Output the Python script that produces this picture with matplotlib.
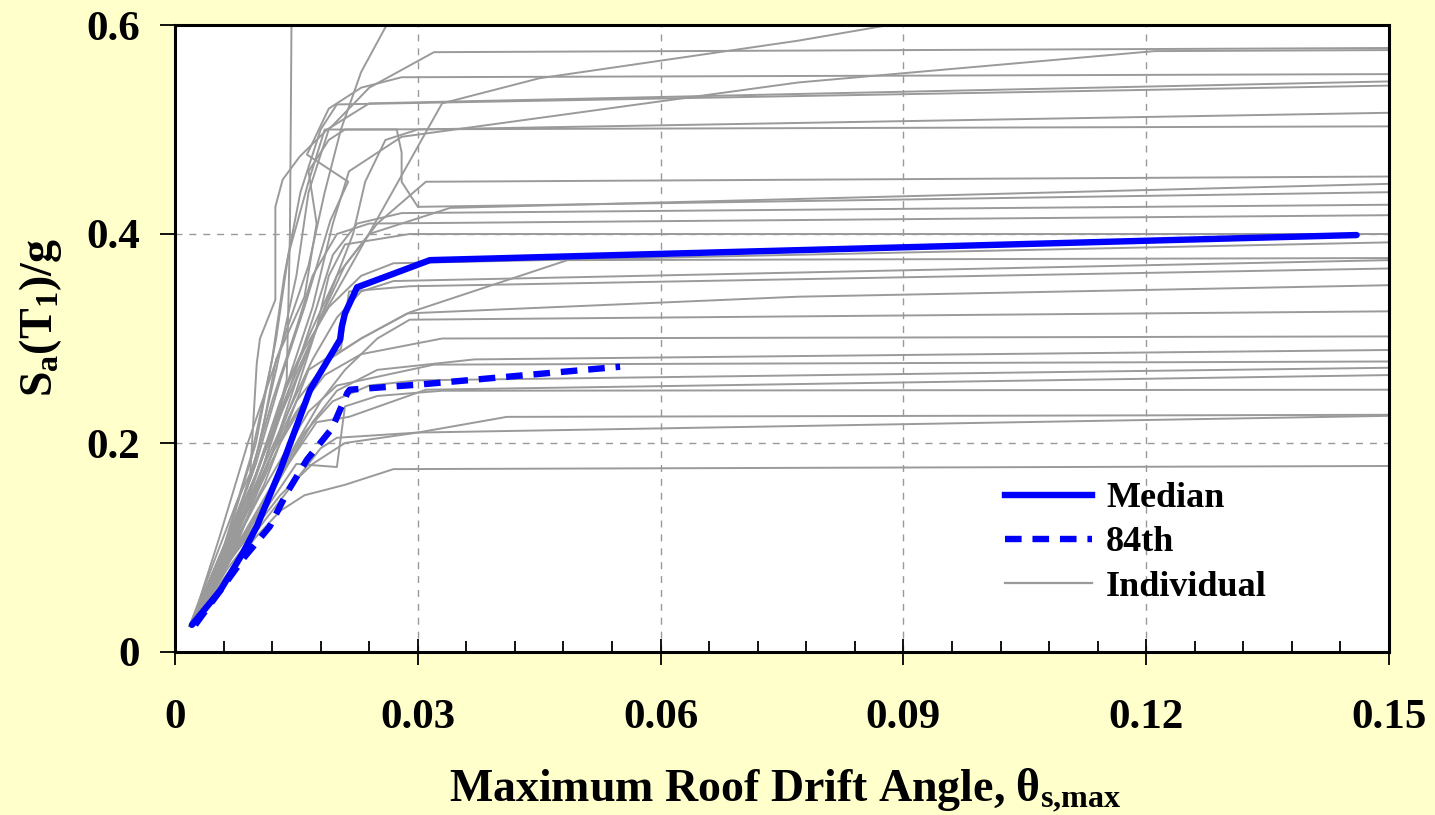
import numpy as np
import matplotlib
matplotlib.use("Agg")
import matplotlib.pyplot as plt
from matplotlib.lines import Line2D

plt.rcParams["font.family"] = ["Liberation Serif", "DejaVu Serif"]
plt.rcParams["font.weight"] = "bold"
plt.rcParams["mathtext.fontset"] = "custom"
plt.rcParams["mathtext.rm"] = "Liberation Serif:bold"
plt.rcParams["mathtext.bf"] = "Liberation Serif:bold"
plt.rcParams["mathtext.it"] = "Liberation Serif:bold"

# individual record curves: (drift angle, Sa/g) pairs
individual = [
    [(0.0018, 0.025), (0.0055, 0.085), (0.0095, 0.17), (0.0125, 0.27), (0.015, 0.36), (0.0165, 0.44), (0.019, 0.50), (0.024, 0.54), (0.032, 0.574), (0.15, 0.578)],
    [(0.0020, 0.025), (0.0065, 0.09), (0.011, 0.18), (0.014, 0.26), (0.017, 0.33), (0.0195, 0.41), (0.0215, 0.46), (0.028, 0.493), (0.077, 0.545), (0.121, 0.575), (0.15, 0.576)],
    [(0.0018, 0.025), (0.006, 0.09), (0.010, 0.17), (0.014, 0.25), (0.018, 0.318), (0.033, 0.525), (0.045, 0.549), (0.077, 0.585), (0.092, 0.605)],
    [(0.0018, 0.025), (0.005, 0.08), (0.009, 0.15), (0.012, 0.21), (0.0138, 0.26), (0.0142, 0.40), (0.0143, 0.50), (0.0144, 0.61)],
    [(0.0020, 0.025), (0.0055, 0.11), (0.009, 0.20), (0.013, 0.29), (0.0165, 0.37), (0.0185, 0.44), (0.0205, 0.50), (0.023, 0.555), (0.0265, 0.605)],
    [(0.0019, 0.025), (0.006, 0.095), (0.010, 0.18), (0.013, 0.26), (0.016, 0.33), (0.0192, 0.413), (0.0214, 0.45), (0.0163, 0.476), (0.019, 0.52), (0.023, 0.54), (0.028, 0.55), (0.15, 0.553)],
    [(0.0018, 0.025), (0.0045, 0.08), (0.0077, 0.145), (0.0093, 0.171), (0.0101, 0.276), (0.0105, 0.30), (0.0124, 0.337), (0.0124, 0.426), (0.0133, 0.452), (0.0154, 0.474), (0.0188, 0.50), (0.024, 0.525), (0.077, 0.534), (0.15, 0.546)],
    [(0.0018, 0.025), (0.006, 0.10), (0.0095, 0.19), (0.012, 0.28), (0.0135, 0.36), (0.0155, 0.44), (0.018, 0.50), (0.020, 0.524), (0.077, 0.532), (0.15, 0.542)],
    [(0.0020, 0.025), (0.007, 0.10), (0.011, 0.19), (0.016, 0.28), (0.019, 0.34), (0.022, 0.40), (0.0235, 0.45), (0.026, 0.49), (0.030, 0.50), (0.15, 0.516)],
    [(0.0019, 0.025), (0.0065, 0.10), (0.0105, 0.20), (0.0125, 0.28), (0.016, 0.34), (0.0175, 0.41), (0.0165, 0.46), (0.019, 0.49), (0.021, 0.50), (0.15, 0.503)],
    [(0.0020, 0.025), (0.008, 0.11), (0.012, 0.19), (0.015, 0.26), (0.018, 0.32), (0.021, 0.37), (0.025, 0.41), (0.031, 0.45), (0.15, 0.455)],
    [(0.0018, 0.025), (0.006, 0.09), (0.010, 0.17), (0.0135, 0.25), (0.017, 0.31), (0.020, 0.36), (0.024, 0.40), (0.034, 0.425), (0.15, 0.448)],
    [(0.0019, 0.025), (0.0065, 0.11), (0.010, 0.20), (0.0125, 0.30), (0.014, 0.38), (0.0165, 0.45), (0.0185, 0.50), (0.0274, 0.50), (0.028, 0.478), (0.028, 0.45), (0.030, 0.426), (0.15, 0.440)],
    [(0.0020, 0.025), (0.007, 0.10), (0.011, 0.18), (0.0145, 0.26), (0.0175, 0.33), (0.0195, 0.38), (0.0225, 0.41), (0.028, 0.42), (0.15, 0.428)],
    [(0.0018, 0.025), (0.0055, 0.09), (0.009, 0.16), (0.012, 0.24), (0.015, 0.31), (0.017, 0.36), (0.020, 0.40), (0.024, 0.41), (0.15, 0.418)],
    [(0.0020, 0.025), (0.0075, 0.11), (0.0115, 0.18), (0.015, 0.25), (0.0175, 0.31), (0.019, 0.36), (0.021, 0.39), (0.029, 0.40), (0.15, 0.400)],
    [(0.0019, 0.025), (0.006, 0.10), (0.010, 0.17), (0.013, 0.24), (0.016, 0.29), (0.019, 0.33), (0.023, 0.36), (0.027, 0.372), (0.15, 0.392)],
    [(0.0020, 0.025), (0.008, 0.12), (0.012, 0.19), (0.015, 0.24), (0.019, 0.28), (0.023, 0.30), (0.029, 0.325), (0.0485, 0.375), (0.15, 0.377)],
    [(0.0018, 0.025), (0.0065, 0.10), (0.0105, 0.17), (0.014, 0.23), (0.017, 0.28), (0.020, 0.32), (0.023, 0.345), (0.027, 0.355), (0.15, 0.375)],
    [(0.0020, 0.025), (0.007, 0.10), (0.011, 0.16), (0.014, 0.22), (0.0165, 0.27), (0.0205, 0.29), (0.0215, 0.345), (0.029, 0.35), (0.15, 0.367)],
    [(0.0019, 0.025), (0.006, 0.09), (0.010, 0.15), (0.013, 0.20), (0.016, 0.24), (0.019, 0.28), (0.023, 0.30), (0.0287, 0.324), (0.077, 0.34), (0.15, 0.351)],
    [(0.0020, 0.025), (0.0075, 0.10), (0.012, 0.16), (0.015, 0.20), (0.018, 0.24), (0.021, 0.27), (0.025, 0.30), (0.029, 0.318), (0.15, 0.326)],
    [(0.0018, 0.025), (0.0055, 0.08), (0.009, 0.14), (0.012, 0.19), (0.015, 0.23), (0.0185, 0.265), (0.023, 0.285), (0.033, 0.300), (0.15, 0.302)],
    [(0.0020, 0.025), (0.007, 0.09), (0.011, 0.14), (0.014, 0.18), (0.017, 0.22), (0.020, 0.25), (0.025, 0.27), (0.037, 0.28), (0.15, 0.289)],
    [(0.0019, 0.025), (0.0065, 0.09), (0.0105, 0.15), (0.0135, 0.19), (0.0165, 0.23), (0.020, 0.255), (0.032, 0.275), (0.15, 0.278)],
    [(0.0020, 0.025), (0.006, 0.08), (0.010, 0.13), (0.013, 0.17), (0.016, 0.21), (0.0195, 0.24), (0.024, 0.255), (0.030, 0.26), (0.15, 0.272)],
    [(0.0018, 0.025), (0.0065, 0.09), (0.011, 0.14), (0.014, 0.18), (0.0175, 0.22), (0.0215, 0.225), (0.031, 0.251), (0.15, 0.265)],
    [(0.0020, 0.025), (0.007, 0.09), (0.0115, 0.14), (0.015, 0.18), (0.020, 0.177), (0.021, 0.235), (0.025, 0.245), (0.033, 0.25), (0.15, 0.251)],
    [(0.0019, 0.025), (0.006, 0.08), (0.010, 0.12), (0.013, 0.15), (0.017, 0.18), (0.021, 0.20), (0.030, 0.21), (0.041, 0.225), (0.15, 0.227)],
    [(0.0020, 0.025), (0.0065, 0.08), (0.0105, 0.12), (0.0135, 0.15), (0.016, 0.175), (0.018, 0.195), (0.020, 0.205), (0.030, 0.21), (0.15, 0.226)],
    [(0.0018, 0.025), (0.006, 0.07), (0.010, 0.11), (0.013, 0.135), (0.016, 0.15), (0.021, 0.16), (0.027, 0.175), (0.15, 0.178)],
]

median_x = [0.0021, 0.0056, 0.0084, 0.0101, 0.0130, 0.0167, 0.0204, 0.0206, 0.0210, 0.0225, 0.0315, 0.146]
median_y = [0.026, 0.059, 0.095, 0.120, 0.174, 0.251, 0.299, 0.311, 0.324, 0.349, 0.375, 0.399]

p84_x = [0.0025, 0.0056, 0.0086, 0.0117, 0.0138, 0.0163, 0.0194, 0.0213, 0.0216, 0.0303, 0.055]
p84_y = [0.026, 0.059, 0.091, 0.120, 0.152, 0.184, 0.214, 0.248, 0.251, 0.256, 0.273]

x_ticks = [0, 0.03, 0.06, 0.09, 0.12, 0.15]
x_ticklabels = ["0", "0.03", "0.06", "0.09", "0.12", "0.15"]
y_ticks = [0, 0.2, 0.4, 0.6]
y_ticklabels = ["0", "0.2", "0.4", "0.6"]

gray = "#9a9a9a"
fig = plt.figure(figsize=(14.35, 8.15), dpi=100, facecolor="#FFFFCC")
ax = fig.add_axes([175 / 1435, 1 - 652 / 815, (1389 - 175) / 1435, (652 - 25) / 815])
ax.set_facecolor("white")

for curve in individual:
    xs, ys = zip(*curve)
    ax.plot(xs, ys, color=gray, lw=1.4, solid_joinstyle="round")

ax.plot(p84_x, p84_y, color="#0000FF", lw=4.6, linestyle=(0, (2.6, 1.7)))
ax.plot(median_x, median_y, color="#0000FF", lw=4.6, solid_capstyle="round")

ax.set_xlim(0, 0.15)
ax.set_ylim(0, 0.6)
ax.set_xticks(x_ticks)
ax.set_xticklabels(x_ticklabels)
ax.set_yticks(y_ticks)
ax.set_yticklabels(y_ticklabels)
ax.set_xticks(np.arange(0, 0.1501, 0.006), minor=True)
ax.tick_params(axis="x", which="major", direction="inout", length=19, width=1.3,
               labelsize=31, pad=24)
ax.tick_params(axis="x", which="minor", direction="in", length=8, width=1.3)
ax.tick_params(axis="y", which="major", direction="out", length=11, width=1.3,
               labelsize=31, pad=14)
ax.grid(True, which="major", color="#999999", lw=1.0, linestyle=(0, (5, 5)))
ax.set_axisbelow(True)

for side in ["left", "bottom", "top", "right"]:
    ax.spines[side].set_color("black")
    ax.spines[side].set_linewidth(2.2)

fig.text(785 / 1435, 1 - 790 / 815, r"Maximum Roof Drift Angle, θ$_{\mathbf{s{,}max}}$",
         ha="center", va="center", fontsize=33, fontweight="bold")
fig.text(40 / 1435, 1 - 318 / 815, r"S$_{\mathbf{a}}$(T$_{\mathbf{1}}$)/g",
         ha="center", va="center", rotation=90, fontsize=33, fontweight="bold")

handles = [
    Line2D([], [], color="#0000FF", lw=4.6),
    Line2D([], [], color="#0000FF", lw=4.6, linestyle=(0, (2.6, 1.7))),
    Line2D([], [], color=gray, lw=1.6),
]
leg = fig.legend(handles, ["Median", "84th", "Individual"], loc="upper left",
                 bbox_to_anchor=(1005 / 1435, 1 - 482 / 815), frameon=False,
                 fontsize=26, handlelength=2.4, handletextpad=0.4,
                 labelspacing=0.3, borderpad=0, borderaxespad=0)

fig.savefig("out.png", dpi=100, facecolor=fig.get_facecolor())
